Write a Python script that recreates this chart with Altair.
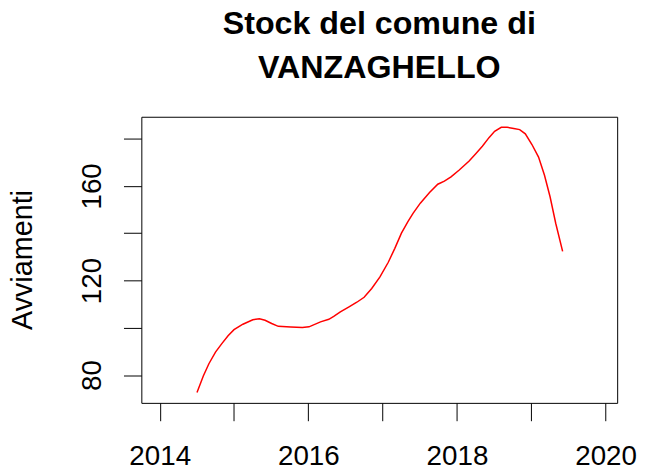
import altair as alt
import pandas as pd

# Values
anni = [2014.502, 2014.587, 2014.662, 2014.751, 2014.831, 2014.92, 2015.0, 2015.12,
        2015.253, 2015.342, 2015.418, 2015.507, 2015.596, 2015.764, 2015.92, 2016.009,
        2016.164, 2016.276, 2016.342, 2016.431, 2016.542, 2016.653, 2016.751, 2016.853,
        2016.964, 2017.076, 2017.164, 2017.253, 2017.342, 2017.409, 2017.507, 2017.631,
        2017.742, 2017.831, 2017.92, 2018.031, 2018.164, 2018.253, 2018.342, 2018.431,
        2018.507, 2018.596, 2018.676, 2018.764, 2018.844, 2018.92, 2019.009, 2019.098,
        2019.178, 2019.253, 2019.329, 2019.422]
avviamenti = [72.6, 79.6, 84.8, 89.7, 93.1, 96.6, 99.2, 101.5,
              103.4, 103.8, 103.2, 101.8, 100.6, 100.3, 100.1, 100.4,
              102.5, 103.6, 104.8, 106.7, 108.7, 110.8, 112.9, 116.6,
              121.5, 127.7, 133.6, 140.0, 145.0, 148.4, 152.7, 157.2,
              160.7, 162.0, 163.8, 166.7, 170.5, 173.6, 176.8, 180.4,
              183.1, 184.8, 184.8, 184.3, 183.8, 182.0, 177.5, 172.2,
              164.5, 155.4, 144.2, 132.3]

x_ticks = [2014, 2015, 2016, 2017, 2018, 2019, 2020]
y_ticks = [80, 100, 120, 140, 160, 180]
titolo = ["Stock del comune di\u00a0", "\u00a0VANZAGHELLO"]

df = pd.DataFrame({"anno": anni, "avviamenti": avviamenti})

FONT = "Liberation Sans"

chart = alt.Chart(df).mark_line(color="#FF0000", strokeWidth=1.5).encode(
    x=alt.X("anno:Q",
            scale=alt.Scale(domain=[2013.753, 2020.156], nice=False, zero=False),
            axis=alt.Axis(values=x_ticks, format="d",
                          labelExpr="datum.value % 2 == 0 ? datum.label : ''",
                          title=None, grid=False, domain=False,
                          tickSize=18, tickColor="black", tickWidth=1,
                          labelFont=FONT, labelFontSize=28, labelColor="black",
                          labelBaseline="alphabetic", labelPadding=44,
                          labelFlush=False, labelOverlap=False)),
    y=alt.Y("avviamenti:Q",
            scale=alt.Scale(domain=[68.25, 189.23], nice=False, zero=False),
            axis=alt.Axis(values=y_ticks,
                          labelExpr="datum.value % 40 == 0 ? datum.label : ''",
                          title="Avviamenti", grid=False, domain=False,
                          tickSize=18, tickColor="black", tickWidth=1,
                          labelFont=FONT, labelFontSize=28, labelColor="black",
                          labelAngle=270, labelAlign="center",
                          labelBaseline="alphabetic", labelPadding=22.8,
                          labelFlush=False, labelOverlap=False,
                          titleFont=FONT, titleFontSize=29, titleFontWeight="normal",
                          titleColor="black", titleAngle=270, titleAlign="center",
                          titleBaseline="alphabetic", titleX=-110.5, titleY=144)),
).properties(
    width=480,
    height=288.6,
    title=alt.TitleParams(text=titolo, font=FONT, fontSize=32.5, fontWeight="bold",
                          color="black", anchor="middle", frame="group",
                          lineHeight=44, baseline="bottom", offset=0),
    padding={"left": 134.5, "top": 107.7, "right": 20, "bottom": 66},
    autosize=alt.AutoSizeParams(type="none"),
).configure(background="white").configure_view(stroke="black", strokeWidth=1)

chart.save("out.html", embed_options={"renderer": "svg", "actions": False})
